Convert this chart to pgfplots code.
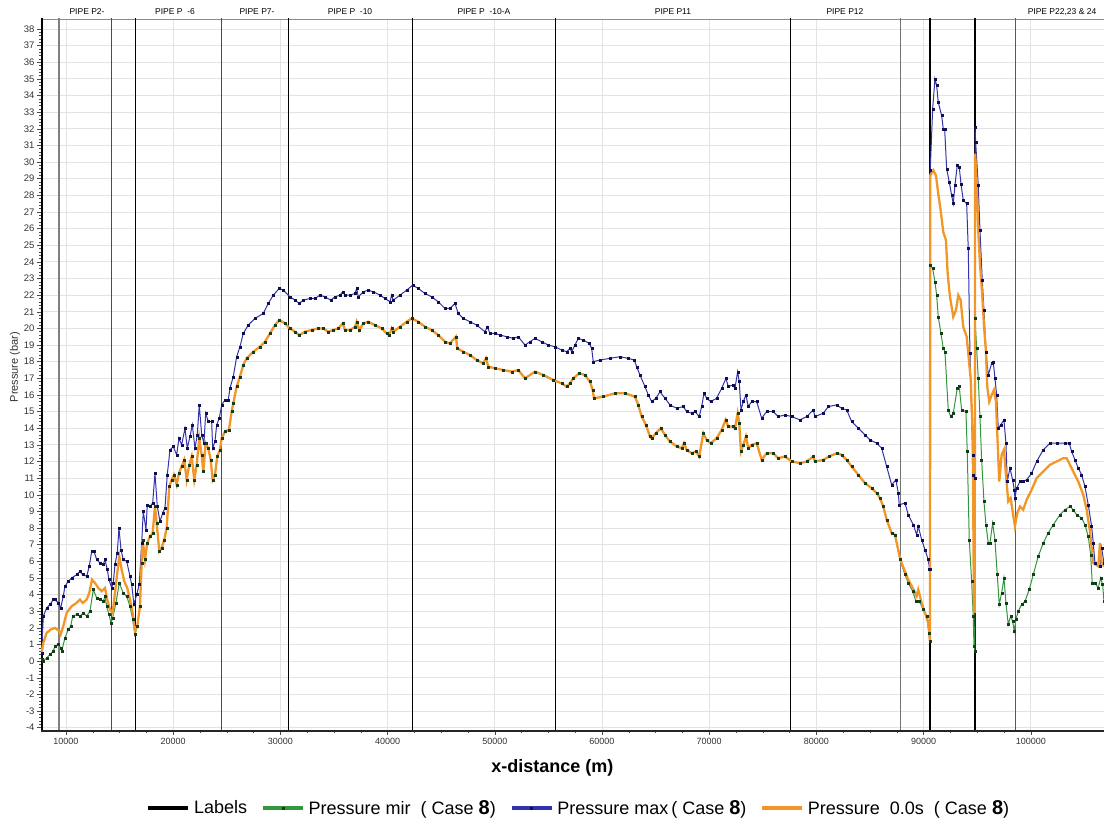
\documentclass[border=0pt]{standalone}
\usepackage{fontspec}
\setmainfont{Liberation Sans}
\setsansfont{Liberation Sans}
\usepackage{pgfplots}
\usepackage{pgfplotstable}
\pgfplotsset{compat=1.18}
\definecolor{bluel}{RGB}{50,50,170}
\definecolor{navy}{RGB}{15,15,80}
\definecolor{greenl}{RGB}{50,150,60}
\definecolor{greenm}{RGB}{20,60,25}
\definecolor{orangel}{RGB}{242,150,40}

\pgfplotstableread{
x y
7733 0.5
7883 2.7
8200 3.2
8508 3.4
8815 3.7
8974 3.7
9282 3.5
9506 3.2
9748 3.9
9907 4.5
10215 4.8
10532 5.0
10998 5.2
11306 5.4
11558 5.2
11931 5.1
12173 5.7
12397 6.6
12612 6.6
12864 6.1
13172 5.9
13479 5.8
13638 6.1
13852 5.5
14011 4.9
14263 4.4
14412 4.7
14571 5.8
14785 6.5
14944 8.0
15130 6.7
15345 6.1
15662 6.0
15970 5.1
16128 4.6
16343 3.4
16595 4.0
16837 4.6
17061 7.1
17211 9.0
17462 7.9
17584 9.4
17836 9.3
18087 9.5
18302 11.3
18517 9.3
18768 8.4
19020 8.9
19235 9.2
19449 11.2
19701 12.7
20009 12.9
20326 12.4
20541 13.4
20792 13.0
21100 14.0
21315 12.8
21567 13.5
21781 14.2
22033 12.8
22248 13.6
22434 15.4
22658 13.6
22873 13.1
23031 14.9
23274 14.4
23591 14.4
23684 12.8
23899 13.2
24057 14.2
24300 14.6
24524 15.4
24832 15.7
25139 15.7
25298 16.4
25606 17.1
25923 18.3
26231 18.9
26539 19.7
27005 20.2
27630 20.6
28404 20.9
28871 21.5
29337 22.0
29897 22.4
30270 22.3
30895 21.9
31361 21.7
31762 21.5
32135 21.7
32760 21.8
33227 21.8
33693 22.0
34160 21.9
34691 21.7
35092 21.9
35559 22.0
35811 22.2
36025 22.0
36492 22.0
36958 22.1
37117 22.4
37266 21.9
37732 22.2
38199 22.3
38665 22.2
39290 22.0
39756 21.8
40223 21.6
40381 22.0
40531 21.7
41156 22.0
41780 22.3
42340 22.6
42863 22.4
43488 22.1
44112 21.9
44728 21.6
45353 21.2
45820 21.2
46286 21.5
46594 20.9
47060 20.6
47685 20.4
48310 20.2
49084 19.8
49299 20.1
49551 19.7
50017 19.7
50484 19.6
51109 19.5
51724 19.4
52191 19.5
52816 19.0
53282 19.2
53748 19.4
54373 19.2
54989 19.0
55614 18.9
56239 18.7
56705 18.6
57013 18.8
57172 18.6
57480 19.0
57787 19.4
58254 19.3
58814 19.1
59037 18.8
59187 18.0
59812 18.1
60744 18.2
61677 18.3
62451 18.2
63011 18.1
63235 17.7
63543 17.2
64009 16.5
64317 16.0
64634 15.6
65035 15.8
65408 16.2
65875 15.8
66341 15.4
66966 15.2
67582 15.3
67899 15.0
68365 14.9
68673 15.0
69074 14.7
69298 15.3
69513 16.1
69764 15.8
70138 15.6
70697 15.8
71164 16.4
71565 17.0
71779 16.5
72190 16.6
72404 16.4
72656 17.4
72805 16.8
72964 15.1
73179 15.6
73430 16.0
73645 15.3
73962 15.6
74429 15.6
74895 14.6
75361 15.0
75977 15.0
76443 14.7
77068 14.8
77693 14.7
78468 14.5
79092 14.7
79708 15.1
79867 14.7
80641 14.9
81107 15.3
81891 15.4
82357 15.2
82824 15.1
83290 14.4
83906 14.0
84531 13.6
84997 13.3
85622 13.1
86088 12.8
86555 11.7
87021 10.6
87422 10.9
87637 10.1
87730 9.4
88262 9.5
88570 8.8
89036 8.2
89353 7.6
89503 8.1
89820 7.3
90128 6.7
90435 6.1
90560 5.5
90600 5.5
90620 29.5
90846 33.2
91060 35.0
91219 34.6
91368 33.6
91685 32.8
91835 32.0
91965 32.0
92152 29.6
92394 28.8
92618 28.0
92767 27.5
92926 28.6
93141 29.8
93327 29.7
93486 28.7
93700 27.7
94017 27.5
94167 24.8
94325 18.5
94577 12.4
94633 11.2
94780 11.0
94800 32.1
94857 31.2
95099 28.6
95258 25.9
95473 22.9
95631 21.1
95818 18.6
96032 17.2
96349 17.9
96499 18.0
96657 17.0
96816 16.0
96965 14.0
97189 14.2
97497 14.5
97683 13.1
97805 10.8
98056 11.6
98308 10.9
98457 10.3
98523 9.8
98681 10.4
98989 10.8
99297 10.8
99614 10.9
100080 11.3
100547 12.0
101163 12.7
101788 13.1
102413 13.1
103187 13.1
103588 13.1
103812 12.6
104120 12.1
104427 11.6
104744 11.2
105052 10.5
105360 9.4
105677 8.1
105827 7.1
105985 5.9
106452 5.7
106610 6.8
106825 5.9
}\bluedata

\pgfplotstableread{
x y
7733 0.5
7883 1.1
8200 1.7
8573 1.9
8974 2.0
9375 1.8
9506 1.6
9748 2.1
10065 2.9
10532 3.3
10998 3.5
11306 3.7
11558 3.5
11931 3.7
12173 4.1
12425 4.9
12705 4.7
13013 4.4
13330 4.2
13638 4.4
13852 3.7
14104 3.1
14356 2.9
14571 4.1
14785 5.3
14972 6.3
15196 5.5
15438 4.8
15718 4.4
15970 3.7
16222 2.9
16436 1.8
16651 2.1
16903 3.3
17061 5.9
17155 7.3
17369 6.1
17584 7.1
17836 7.5
18087 7.7
18302 9.3
18460 8.3
18703 6.6
18927 6.8
19169 7.3
19393 8.0
19636 10.5
19860 10.9
20074 11.2
20326 10.6
20541 11.3
20792 11.7
21035 12.1
21259 10.9
21501 11.8
21725 12.3
21968 10.9
22192 11.8
22434 13.4
22658 12.4
22807 11.4
23031 13.1
23274 12.8
23498 12.1
23684 10.9
23899 11.2
24113 12.3
24365 12.7
24524 13.4
24832 13.8
25205 13.9
25456 15.0
25606 15.5
25923 16.5
26231 17.1
26539 17.8
26856 18.2
27471 18.6
28096 18.9
28563 19.2
29029 19.7
29496 20.2
29897 20.5
30428 20.3
30895 20.0
31361 19.8
31762 19.6
32294 19.8
32919 19.9
33535 20.0
34001 20.0
34468 19.8
34934 19.9
35400 20.0
35811 20.3
36025 19.9
36492 19.9
36958 20.1
37117 20.4
37359 19.9
37732 20.3
38199 20.4
38824 20.2
39448 20.0
39915 19.7
40157 19.6
40381 20.0
40531 19.8
41156 20.1
41780 20.4
42247 20.6
42863 20.4
43488 20.1
44112 19.9
44728 19.6
45353 19.2
45820 19.1
46379 19.5
46501 18.8
47060 18.6
47685 18.4
48310 18.1
48926 17.9
49178 18.2
49392 17.7
50017 17.6
50791 17.5
51575 17.4
52191 17.5
52816 17.0
53748 17.4
54523 17.2
55455 16.9
56239 16.7
56705 16.5
57013 16.7
57321 17.0
57881 17.3
58412 17.2
58879 16.8
59131 16.3
59252 15.8
60120 15.9
61211 16.1
62144 16.1
63076 15.9
63384 15.4
63701 14.7
64102 14.2
64476 13.5
64634 13.4
65035 13.7
65474 14.0
65875 13.6
66341 13.2
66966 12.9
67432 12.8
67647 13.1
67899 12.7
68365 12.5
68766 12.6
69074 12.3
69448 13.7
69764 13.3
70138 13.1
70697 13.4
71164 13.9
71537 14.5
71779 14.1
72190 14.1
72404 14.0
72656 14.9
72805 14.3
72964 12.6
73179 13.0
73430 13.5
73645 12.8
73962 13.0
74429 13.1
74895 12.1
75361 12.5
75977 12.5
76443 12.2
77068 12.3
77693 12.0
78468 11.9
79092 12.0
79708 12.3
79867 12.0
80641 12.1
81201 12.3
81891 12.5
82357 12.4
82824 12.1
83290 11.7
83906 11.2
84531 10.7
85156 10.4
85622 10.1
85930 9.8
86238 9.3
86555 8.5
87021 7.7
87329 7.6
87730 6.4
87954 5.9
88262 5.4
88570 4.9
88980 4.4
89353 3.9
89503 4.3
89820 3.5
90128 2.9
90435 2.3
90580 1.3
90600 1.3
90620 29.2
90902 29.5
91154 29.2
91368 28.1
91592 27.1
91835 25.8
92086 25.3
92245 23.3
92460 21.9
92767 20.7
93019 21.1
93234 22.0
93458 21.7
93700 20.1
94017 19.5
94167 18.5
94390 17.0
94577 13.7
94633 9.1
94698 3.2
94770 2.9
94810 30.5
94950 28.7
95099 25.9
95258 23.9
95473 22.0
95631 20.2
95818 18.6
95939 16.5
96126 15.6
96349 16.0
96564 16.3
96750 15.6
96872 13.7
97058 10.8
97282 12.4
97497 12.7
97683 11.2
97898 9.6
98122 9.8
98308 9.0
98523 8.1
98737 8.9
98989 9.3
99297 9.1
99614 9.7
100080 10.3
100547 11.0
101163 11.4
101788 11.8
102413 12.0
103028 12.2
103345 12.2
103653 11.8
103961 11.4
104427 10.8
104894 10.0
105211 9.1
105519 7.8
105827 5.9
106293 5.7
106452 7.1
106610 5.9
106825 5.7
}\orangedata

\pgfplotstableread{
x y
7733 0.1
7883 0.0
8200 0.2
8508 0.4
8815 0.6
8974 0.9
9282 1.0
9506 0.8
9599 0.6
9907 1.4
10215 1.9
10438 2.1
10625 2.7
10998 2.8
11306 2.7
11614 2.9
11931 2.7
12239 3.0
12547 4.3
12864 3.8
13172 3.7
13479 3.6
13638 3.9
13796 3.3
14011 2.8
14198 2.3
14356 2.6
14664 3.5
14972 4.7
15345 4.1
15662 3.9
15970 3.3
16222 2.5
16436 1.6
16651 2.1
16903 3.3
17061 5.9
17155 7.3
17369 6.1
17584 7.1
17836 7.5
18087 7.7
18302 9.3
18460 8.3
18703 6.6
18927 6.8
19169 7.3
19393 8.0
19636 10.5
19860 10.9
20074 11.2
20326 10.6
20541 11.3
20792 11.7
21035 12.1
21259 10.9
21501 11.8
21725 12.3
21968 10.9
22192 11.8
22434 13.4
22658 12.4
22807 11.4
23031 13.1
23274 12.8
23498 12.1
23684 10.9
23899 11.2
24113 12.3
24365 12.7
24524 13.4
24832 13.8
25205 13.9
25456 15.0
25606 15.5
25923 16.5
26231 17.1
26539 17.8
26856 18.2
27471 18.6
28096 18.9
28563 19.2
29029 19.7
29496 20.2
29897 20.5
30428 20.3
30895 20.0
31361 19.8
31762 19.6
32294 19.8
32919 19.9
33535 20.0
34001 20.0
34468 19.8
34934 19.9
35400 20.0
35811 20.3
36025 19.9
36492 19.9
36958 20.1
37117 20.4
37359 19.9
37732 20.3
38199 20.4
38824 20.2
39448 20.0
39915 19.7
40157 19.6
40381 20.0
40531 19.8
41156 20.1
41780 20.4
42247 20.6
42863 20.4
43488 20.1
44112 19.9
44728 19.6
45353 19.2
45820 19.1
46379 19.5
46501 18.8
47060 18.6
47685 18.4
48310 18.1
48926 17.9
49178 18.2
49392 17.7
50017 17.6
50791 17.5
51575 17.4
52191 17.5
52816 17.0
53748 17.4
54523 17.2
55455 16.9
56239 16.7
56705 16.5
57013 16.7
57321 17.0
57881 17.3
58412 17.2
58879 16.8
59131 16.3
59252 15.8
60120 15.9
61211 16.1
62144 16.1
63076 15.9
63384 15.4
63701 14.7
64102 14.2
64476 13.5
64634 13.4
65035 13.7
65474 14.0
65875 13.6
66341 13.2
66966 12.9
67432 12.8
67647 13.1
67899 12.7
68365 12.5
68766 12.6
69074 12.3
69448 13.7
69764 13.3
70138 13.1
70697 13.4
71164 13.9
71537 14.5
71779 14.1
72190 14.1
72404 14.0
72656 14.9
72805 14.3
72964 12.6
73179 13.0
73430 13.5
73645 12.8
73962 13.0
74429 13.1
74895 12.1
75361 12.5
75977 12.5
76443 12.2
77068 12.3
77693 12.0
78468 11.9
79092 12.0
79708 12.3
79867 12.0
80641 12.1
81201 12.3
81891 12.5
82357 12.4
82824 12.1
83290 11.7
83906 11.2
84531 10.7
85156 10.4
85622 10.1
85930 9.8
86238 9.3
86555 8.5
87021 7.7
87329 7.6
87790 6.1
88262 5.2
88570 4.7
88980 4.2
89288 3.6
89598 3.6
89969 3.1
90286 2.7
90501 1.7
90580 1.2
90600 1.2
90620 23.8
90846 23.6
91060 22.8
91219 22.0
91368 20.7
91620 19.7
91835 18.8
91993 18.6
92301 15.1
92525 14.7
92767 14.9
93141 16.4
93327 16.5
93551 15.1
93952 15.0
94073 12.6
94260 7.3
94484 4.8
94633 2.7
94698 0.9
94780 0.6
94800 20.6
94950 18.8
95099 17.0
95258 14.7
95416 12.1
95631 9.6
95818 8.2
96032 7.1
96191 7.1
96443 8.3
96657 7.3
96872 5.2
97058 3.4
97282 4.1
97497 5.0
97683 3.5
97898 2.2
98122 2.7
98308 2.4
98457 1.8
98615 2.5
98831 3.0
99148 3.4
99456 3.6
99857 4.3
100230 5.2
100696 6.3
101163 7.1
101629 7.7
102095 8.2
102722 8.8
103187 9.1
103653 9.3
103961 9.1
104278 8.8
104744 8.6
105052 8.2
105360 7.5
105584 6.4
105733 4.7
105985 4.7
106293 4.4
106517 5.0
106703 4.6
106825 3.6
}\greendata

\begin{document}
\begin{tikzpicture}
\useasboundingbox (-41pt,-93pt) rectangle (1063pt,731pt);
\begin{axis}[
  at={(0pt,0pt)}, anchor=south west,
  scale only axis, width=1063pt, height=712pt,
  xmin=7670, xmax=106830, ymin=-4.2, ymax=38.6,
  xtick={10000,20000,30000,40000,50000,60000,70000,80000,90000,100000},
  xticklabels={10000,20000,30000,40000,50000,60000,70000,80000,90000,100000},
  ytick={-4,-3,...,38},
  yticklabels={-4,-3,-2,-1,0,1,2,3,4,5,6,7,8,9,10,11,12,13,14,15,16,17,18,19,20,21,22,23,24,25,26,27,28,29,30,31,32,33,34,35,36,37,38},
  minor x tick num=3, minor y tick num=4,
  tick align=outside, tick pos=left,
  major tick length=4pt, minor tick length=2pt,
  tick style={black!70, line width=0.5pt},
  grid=major, major grid style={draw=black!11, line width=0.8pt},
  axis line style={draw=black!45},
  scaled x ticks=false, scaled y ticks=false,
  xticklabel style={font=\fontsize{9}{10}\selectfont, text=black!80},
  yticklabel style={font=\fontsize{9.5}{10}\selectfont, text=black!80, xshift=1pt},
  xlabel={x-distance (m)},
  xlabel style={font=\bfseries\fontsize{18}{20}\selectfont, at={(axis description cs:0.481,-0.052)}, anchor=center},
  ylabel={Pressure (bar)},
  ylabel style={font=\fontsize{11}{12}\selectfont, text=black!80, at={(axis description cs:-0.0245,0.511)}, anchor=center},
  legend columns=4,
  legend style={at={(axis description cs:0.506,-0.108)}, anchor=center, draw=none, fill=none,
    font=\fontsize{18}{20}\selectfont,
    /tikz/every even column/.append style={column sep=12pt},
    /tikz/every odd column/.append style={column sep=2pt}},
  legend cell align=left,
  legend image code/.code={\draw[mark repeat=2,mark phase=2,#1,line width=3.5pt] plot coordinates {(0pt,0pt)(20pt,0pt)(40pt,0pt)};},
  extra description/.code={
    \draw[black!85, line width=1.4pt] (0,0) -- (1,0);
    \node[font=\fontsize{8.5}{10}\selectfont] at (0.0433,1.0098) {PIPE P2-};
    \node[font=\fontsize{8.5}{10}\selectfont] at (0.1261,1.0098) {PIPE P\ \ -6};
    \node[font=\fontsize{8.5}{10}\selectfont] at (0.2032,1.0098) {PIPE P7-};
    \node[font=\fontsize{8.5}{10}\selectfont] at (0.2907,1.0098) {PIPE P\ \ -10};
    \node[font=\fontsize{8.5}{10}\selectfont] at (0.4167,1.0098) {PIPE P\ \ -10-A};
    \node[font=\fontsize{8.5}{10}\selectfont] at (0.5945,1.0098) {PIPE P11};
    \node[font=\fontsize{8.5}{10}\selectfont] at (0.7563,1.0098) {PIPE P12};
    \node[font=\fontsize{8.5}{10}\selectfont] at (0.9605,1.0098) {PIPE P22,23 \& 24};
  },
]
% label lines
\addplot[black, line width=2.5pt, no marks] coordinates {(7760,-5) (7760,40)};
\addlegendentry{Labels}
\addplot[black!50, line width=1.2pt, no marks, forget plot] coordinates {(9350,-5) (9350,40)};
\addplot[black!70, line width=1pt, no marks, forget plot] coordinates {(14290,-5) (14290,40)};
\addplot[black, line width=1pt, no marks, forget plot] coordinates {(16530,-5) (16530,40)};
\addplot[black!70, line width=1pt, no marks, forget plot] coordinates {(24550,-5) (24550,40)};
\addplot[black, line width=1pt, no marks, forget plot] coordinates {(30800,-5) (30800,40)};
\addplot[black, line width=1pt, no marks, forget plot] coordinates {(42280,-5) (42280,40)};
\addplot[black, line width=1pt, no marks, forget plot] coordinates {(55710,-5) (55710,40)};
\addplot[black, line width=1pt, no marks, forget plot] coordinates {(77630,-5) (77630,40)};
\addplot[black!55, line width=1pt, no marks, forget plot] coordinates {(87800,-5) (87800,40)};
\addplot[black, line width=2.8pt, no marks, forget plot] coordinates {(90600,-5) (90600,40)};
\addplot[black, line width=1.6pt, no marks, forget plot] coordinates {(94790,-5) (94790,40)};
\addplot[black!65, line width=1pt, no marks, forget plot] coordinates {(98530,-5) (98530,40)};
% min
\addplot[greenl, line width=1pt, mark=square*, mark size=1pt, mark options={solid, line width=0.3pt, draw=greenm, fill=greenm}] table {\greendata};
\addlegendentry{Pressure mir\ \ ( Case {\fontsize{20}{20}\selectfont\bfseries 8})}
% max
\addplot[bluel, line width=1pt, mark=square*, mark size=1pt, mark options={solid, line width=0.3pt, draw=navy, fill=navy}] table {\bluedata};
\addlegendentry{Pressure max\,( Case {\fontsize{20}{20}\selectfont\bfseries 8})}
% 0.0s
\addplot[orangel, line width=2.3pt, no marks] table {\orangedata};
\addlegendentry{Pressure\ \ 0.0s\ \ ( Case {\fontsize{20}{20}\selectfont\bfseries 8})}
% min markers on top
\addplot[only marks, mark=square*, mark size=0.9pt, mark options={solid, line width=0.3pt, draw=greenm, fill=greenm}, forget plot] table {\greendata};
\end{axis}
\end{tikzpicture}
\end{document}
